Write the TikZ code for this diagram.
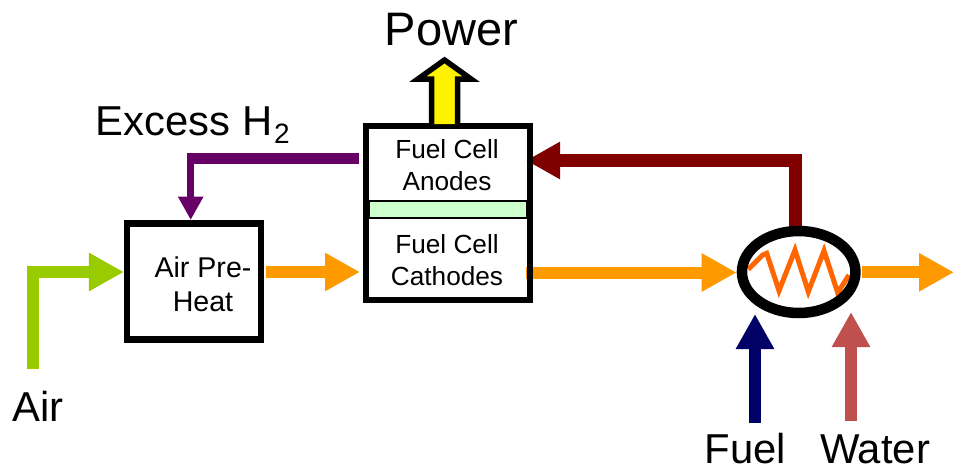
\documentclass[tikz,border=0pt]{standalone}
\usepackage{fontspec}
\setmainfont{Liberation Sans}
\usetikzlibrary{arrows.meta,shapes.geometric}
\pgfdeclarelayer{background}
\pgfsetlayers{background,main}
\definecolor{cair}{HTML}{99CC00}
\definecolor{corange}{HTML}{FF9900}
\definecolor{cpurple}{HTML}{660066}
\definecolor{cmaroon}{HTML}{800000}
\definecolor{cband}{HTML}{CCFFCC}
\definecolor{czig}{HTML}{FF6600}
\definecolor{cfuel}{HTML}{000066}
\definecolor{cwater}{HTML}{C0504D}
\tikzset{
  unitbox/.style={draw=black,line width=6.5pt,rectangle,inner sep=0pt,minimum width=#1},
  flow/.style={line width=12pt,line cap=butt,miter limit=10,-{Triangle[length=35pt,width=36pt]}},
  biglabel/.style={font=\fontsize{41.8}{41.8}\selectfont,anchor=base,inner sep=0pt},
  cellfont/.style={font=\fontsize{26.2}{32}\selectfont,anchor=base,inner sep=0pt,align=center},
  heatfont/.style={font=\fontsize{28.6}{34.7}\selectfont,anchor=base,inner sep=0pt,align=center},
}
\begin{document}
\begin{tikzpicture}[x=1pt,y=-1pt]
\useasboundingbox (0,0) rectangle (954,464);
% units
\node[unitbox=164pt,minimum height=174pt] (fc) at (448,213) {};
\node[unitbox=134pt,minimum height=116pt] (ph) at (194.2,281.3) {};
\node[draw=black,line width=10.5pt,ellipse,inner sep=0pt,minimum width=113.5pt,minimum height=82pt] (hx) at (798.7,272) {};
% membrane band
\node[draw=black,line width=1.5pt,fill=cband,rectangle,inner sep=0pt,minimum width=157.5pt,minimum height=17pt] (band) at (448,209.5) {};
\begin{pgfonlayer}{background}
% coil
\coordinate (za) at (748.3,269.3);
\draw[czig,line width=5pt,line join=miter] (za) -- (762.7,255) -- (766.7,253.3) -- (779,290.7) -- (795,250) -- (808.3,291.7) -- (824,250.7) -- (837.7,292.7) -- (849,275);
% flows behind the box outlines
\coordinate (aircorner) at (33,272);
\coordinate (airstart) at (33,369);
\draw[flow,cair] (airstart) -- (aircorner) -- (ph.west |- aircorner);
\coordinate (o1s) at (266,272);
\draw[flow,corange] (o1s) -- (360,272);
\draw[flow,corange] (526,272.5) -- (hx.west |- 0,272.5);
\coordinate (o3s) at (862.3,272.3);
\draw[flow,corange] (o3s) -- (954,272.3);
\coordinate (mc) at (795.5,160.5);
\draw[line width=12.5pt,cmaroon,line cap=butt,miter limit=10,-{Triangle[length=34pt,width=35pt]}] (hx.north -| mc) ++(0,3) -- (mc) -- (526,160.5);
\coordinate (pc) at (190.7,158.5);
\coordinate (pe) at (359,158.5);
\fill[cpurple] (pe) ++(0,-5.8) rectangle (187,164.3);
\draw[line width=7.5pt,cpurple,line cap=butt,-{Triangle[length=23.5pt,width=24pt]}] (190.7,153) -- (190.7,220);
\coordinate (fuels) at (755,423);
\draw[flow,cfuel] (fuels) -- (755,314);
\coordinate (waters) at (851,421);
\draw[flow,cwater] (waters) -- (851,312);
\end{pgfonlayer}
% power arrow
\coordinate (pw) at (444.5,124);
\draw[black,line width=5.5pt,fill=yellow,miter limit=10,line join=miter] ([xshift=-13]pw) -- ++(0,-45) -- (418,79) -- (444.5,60) -- (471,79) -- (457.5,79) -- ([xshift=13]pw);
% labels
\node[font=\fontsize{47}{47}\selectfont,anchor=base,inner sep=0pt] (power) at (451.5,45) {Power};
\node[biglabel,anchor=base west] (excess) at (95.5,135) {Excess H\kern2pt\raisebox{-8pt}{\fontsize{28}{28}\selectfont 2}};
\node[biglabel] (air) at (38,421) {Air};
\node[biglabel] (fuel) at (745.5,463) {Fuel};
\node[biglabel] (water) at (875,463) {Water};
\node[cellfont] (an) at (447,190.7) {Fuel Cell\\Anodes};
\node[cellfont] (ca) at (447,285) {Fuel Cell\\Cathodes};
\node[heatfont] (pht) at (203,311.7) {Air Pre-\\Heat};
\end{tikzpicture}
\end{document}
